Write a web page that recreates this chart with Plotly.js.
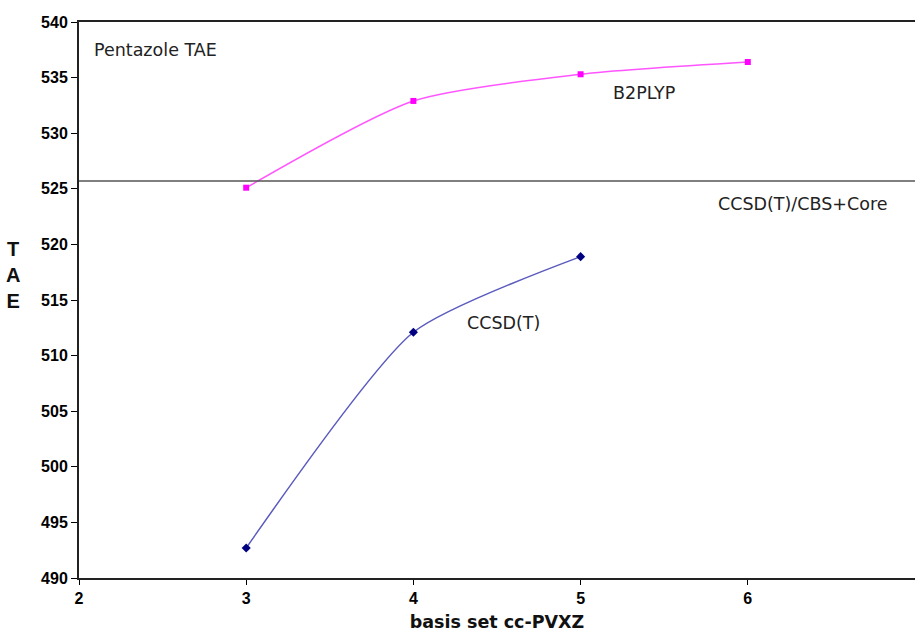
<!DOCTYPE html>
<html>
<head>
<meta charset="utf-8">
<script src="https://cdn.plot.ly/plotly-3.0.1.min.js"></script>
<style>html,body{margin:0;padding:0;background:#fff;}#chart{width:915px;height:632px;}</style>
</head>
<body>
<div id="chart"></div>
<script>
// Data
const basisX = [3, 4, 5, 6];
const b2plypTAE = [525.1, 532.9, 535.3, 536.4];
const ccsdX = [3, 4, 5];
const ccsdTAE = [492.7, 512.1, 518.9];
const cbsCoreRef = 525.7;
const xTicks = [2, 3, 4, 5, 6, 7];
const yTicks = [490, 495, 500, 505, 510, 515, 520, 525, 530, 535, 540];

const traces = [
  {
    x: basisX, y: b2plypTAE, type: 'scatter', mode: 'lines+markers', name: 'B2PLYP',
    line: {color: '#ff55ff', width: 1.5, shape: 'spline', smoothing: 0.7},
    marker: {color: '#ff00ff', symbol: 'square', size: 6}
  },
  {
    x: ccsdX, y: ccsdTAE, type: 'scatter', mode: 'lines+markers', name: 'CCSD(T)',
    line: {color: '#5a5abf', width: 1.5, shape: 'spline', smoothing: 0.6},
    marker: {color: '#000080', symbol: 'diamond', size: 7}
  }
];

const tickFont = {family: 'Liberation Sans, Arial, sans-serif', size: 16, color: '#000', weight: 700};
const annFont = {family: 'DejaVu Sans', size: 17.5, color: '#222'};
const layout = {
  width: 915, height: 632,
  margin: {l: 79, r: 0, t: 22, b: 54},
  paper_bgcolor: '#ffffff', plot_bgcolor: '#ffffff',
  showlegend: false,
  xaxis: {
    range: [2, 7], tickvals: xTicks, ticktext: xTicks.map(v => '<b>' + v + '</b>'),
    ticks: 'outside', ticklen: 5, tickcolor: '#000',
    showgrid: false, zeroline: false, showline: true, linecolor: '#222', linewidth: 2, mirror: true,
    tickfont: tickFont,
    title: {text: '<b>basis set cc-PVXZ</b>', standoff: 15,
      font: {family: 'DejaVu Sans', size: 17.5, color: '#111'}}
  },
  yaxis: {
    range: [490, 540], tickvals: yTicks, ticktext: yTicks.map(v => '<b>' + v + '</b>'),
    ticks: 'outside', ticklen: 6, tickcolor: '#000',
    showgrid: false, zeroline: false, showline: true, linecolor: '#222', linewidth: 2, mirror: true,
    tickfont: tickFont
  },
  shapes: [
    {type: 'line', xref: 'paper', x0: 0, x1: 1, yref: 'y', y0: cbsCoreRef, y1: cbsCoreRef,
     line: {color: '#555', width: 1.5}}
  ],
  annotations: [
    {text: 'Pentazole TAE', xref: 'paper', yref: 'y', x: 0.015, y: 537.5, xanchor: 'left', yanchor: 'middle', showarrow: false, font: annFont},
    {text: 'B2PLYP', xref: 'x', yref: 'y', x: 5.18, y: 533.6, xanchor: 'left', yanchor: 'middle', showarrow: false, font: annFont},
    {text: 'CCSD(T)/CBS+Core', xref: 'x', yref: 'y', x: 5.81, y: 523.6, xanchor: 'left', yanchor: 'middle', showarrow: false, font: annFont},
    {text: 'CCSD(T)', xref: 'x', yref: 'y', x: 4.31, y: 512.9, xanchor: 'left', yanchor: 'middle', showarrow: false, font: annFont},
    {text: '<b>T<br>A<br>E</b>', xref: 'paper', yref: 'paper', x: -0.079, y: 0.545, xanchor: 'center', yanchor: 'middle', showarrow: false,
     font: {family: 'Liberation Sans, Arial, sans-serif', size: 20, color: '#111'}}
  ]
};

Plotly.newPlot('chart', traces, layout, {displayModeBar: false, staticPlot: true});
</script>
</body>
</html>
